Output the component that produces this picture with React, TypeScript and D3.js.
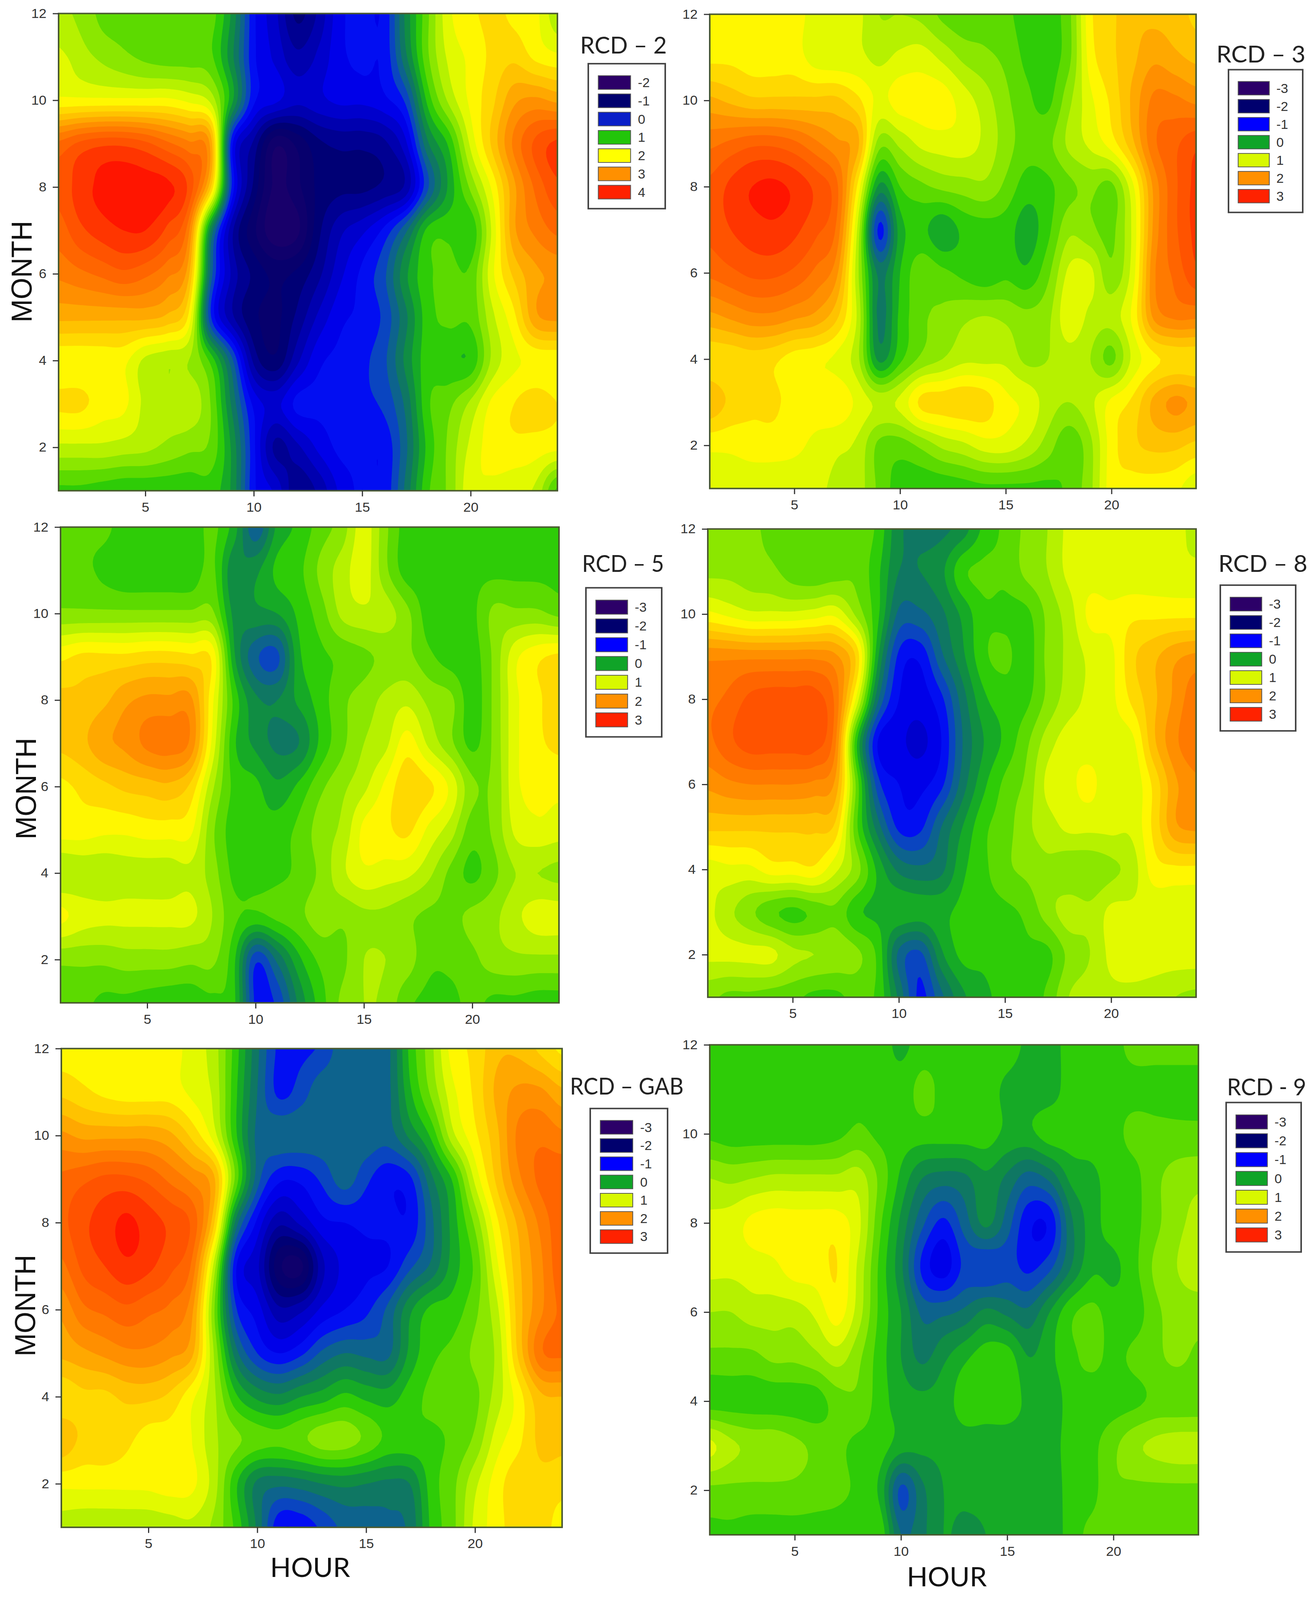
import React, { useEffect, useRef } from 'react';
import * as d3 from 'd3';

const hours = d3.range(1, 25);
const months = d3.range(12, 0, -1); // rows below run from December down to January
const hourTicks = [5, 10, 15, 20];
const monthTicks = [2, 4, 6, 8, 10, 12];

// RCD-2 is read on its own legend (-2..4), the others on -3..3
const rcd2Values = [
  [1.8,1.7,1.5,1.5,1.5,1.5,1.5,1.45,0.9,0,-0.4,-0.9,-0.6,-0.1,0,0,0.8,1.5,2.1,2.3,2.4,2.3,2.2,1.8],
  [2,1.85,1.7,1.6,1.5,1.45,1.45,1.4,0.8,0,-0.3,-0.6,-0.4,-0.1,0,0,0.7,1.5,2,2.2,2.4,2.5,2.3,2.2],
  [2.2,2.2,2.2,2.2,2.2,2.2,2.1,1.9,1,0,-0.2,-0.4,-0.3,-0.2,-0.2,-0.1,0.2,1.2,1.8,2.2,2.5,2.9,3,2.9],
  [3.4,3.6,3.7,3.7,3.6,3.4,3.2,2.9,0,-0.7,-1.4,-1.2,-0.9,-0.8,-0.8,-0.7,-0.3,0.7,1.2,2,2.6,3.2,3.6,3.8],
  [3.6,3.85,4,4.05,4.05,4,3.7,2.6,0.1,-0.9,-1.5,-1.3,-1,-0.9,-0.9,-0.8,-0.6,0.3,1,1.6,2.2,2.9,3.4,3.7],
  [3.45,3.7,3.85,3.95,3.95,3.7,3.2,0.8,-0.6,-1.2,-1.6,-1.5,-0.9,-0.5,-0.3,0,0.5,1.2,1.3,1.2,2,2.9,3.2,3.4],
  [3.2,3.3,3.4,3.5,3.4,3.2,2.8,0.5,-0.5,-0.9,-1.1,-1,-0.7,-0.3,0,0.3,0.9,1.3,1.4,1.4,2.1,2.6,2.9,3],
  [2.8,2.8,2.8,2.8,2.8,2.7,2.3,0.2,-0.6,-1,-1.1,-0.8,-0.4,-0.1,0,0.2,0.7,1.25,1.4,1.4,1.9,2.3,2.9,3],
  [2.2,2.2,2.2,2.2,1.9,1.8,1.75,1.3,0.4,-0.7,-1,-0.5,-0.1,0,0.1,0.3,0.8,1.25,1.2,1.2,1.8,2.1,2.2,2.2],
  [2.4,2.4,2.25,2.2,1.9,1.85,1.9,1.55,0.7,-0.1,-0.3,0,0,0,0.1,0.2,0.6,1.3,1.5,1.8,2.2,2.35,2.45,2.35],
  [1.9,1.9,1.9,1.85,1.8,1.7,1.6,1.5,0.9,0,-0.7,-0.5,-0.2,0,0,0,0.5,1.2,1.6,2,2.25,2.3,2.25,2.2],
  [1.3,1.3,1.25,1.2,1.2,1.2,1.2,1.25,0.9,0,-0.3,-0.8,-0.6,-0.2,0,0,0.6,1.3,1.6,2.1,2.1,2,1.9,1.3],
];

const rcd3Values = [
  [1.25,1.25,1.25,1.25,1.25,1.05,1,1,0.75,0.75,0.7,0.5,0.4,0.45,0.4,0.25,0.25,0.5,1.3,1.5,1.7,1.7,1.65,1.5],
  [1.3,1.3,1.25,1.25,1.25,1.05,1,1,0.9,1,1.05,0.9,0.7,0.6,0.5,0.3,0.25,0.5,1.25,1.5,1.7,1.9,1.8,1.7],
  [1.8,1.7,1.6,1.6,1.6,1.6,1.6,1.4,1.1,1.25,1.25,1.25,1.05,0.85,0.6,0.4,0.3,0.7,1.1,1.4,1.8,2.2,2.2,2.1],
  [2.3,2.4,2.5,2.5,2.4,2.2,2,1.8,0.65,0.8,1,1.05,1.05,0.9,0.65,0.45,0.5,0.8,1,1.25,1.7,2.3,2.5,2.7],
  [2.6,2.8,2.95,3,2.9,2.7,2.4,1.3,-0.1,0.35,0.5,0.6,0.65,0.7,0.5,0.25,0.3,0.5,0.6,0.5,1.1,2,2.5,2.8],
  [2.6,2.75,2.85,2.9,2.8,2.6,2.3,0.9,-0.9,0.05,0.2,0,0.2,0.25,0.25,0.05,0.3,0.7,0.6,0.5,1,2,2.5,2.8],
  [2.4,2.5,2.6,2.6,2.5,2.3,2,0.8,-0.3,0.15,0.5,0.4,0.3,0.2,0.3,0.2,0.5,1,1,0.6,1.05,2.1,2.4,2.7],
  [1.9,2,2.1,2.1,2,1.9,1.6,0.9,-0.3,0.2,0.5,0.6,0.7,0.75,0.7,0.6,0.7,1.1,0.9,0.85,1.2,2,2.2,2.2],
  [1.4,1.4,1.45,1.4,1.25,1.2,1.1,0.8,-0.1,0.3,0.6,0.75,0.9,0.9,0.9,0.7,0.75,0.85,0.75,0.5,1,1.3,1.4,1.4],
  [1.7,1.5,1.4,1.4,1.25,1.25,1.3,1.1,0.9,1,1.4,1.45,1.5,1.45,1.2,1.1,0.85,0.75,0.9,1.2,1.4,1.8,2,1.9],
  [1.2,1.2,1.25,1.25,1.2,1.1,1,0.9,0.5,0.45,0.6,0.8,0.9,1.05,1.05,0.9,0.65,0.4,0.7,1.25,1.5,1.6,1.6,1.5],
  [1,1,1,1,1,1,0.9,0.85,0.5,0.25,0.2,0.2,0.25,0.3,0.3,0.3,0.3,0.4,0.7,1.25,1.25,1.25,1.2,1],
];

const rcd5Values = [
  [0.4,0.4,0.4,0.25,0.2,0.2,0.2,0.4,0.05,-0.6,0,0.2,0.45,0.65,1.05,0.6,0.25,0.25,0.3,0.3,0.3,0.3,0.3,0.3],
  [0.4,0.4,0.3,0.2,0.2,0.2,0.2,0.4,-0.2,-0.1,0.2,0.3,0.6,0.85,1.05,0.6,0.25,0.25,0.3,0.3,0.3,0.3,0.3,0.3],
  [0.6,0.6,0.6,0.6,0.6,0.6,0.6,0.6,-0.1,-0.1,-0.05,0.2,0.45,0.8,0.9,0.85,0.6,0.25,0.25,0.3,0.6,0.6,0.6,0.5],
  [1.3,1.4,1.4,1.4,1.45,1.45,1.4,1.3,0,-0.6,-0.7,0.1,0.3,0.4,0.5,0.6,0.6,0.4,0.25,0.25,0.6,1.1,1.3,1.4],
  [1.6,1.6,1.7,1.9,2,2,2,1.2,0.3,-0.2,-0.25,0,0.25,0.5,0.65,0.8,0.9,0.7,0.6,0.25,0.6,1.1,1.3,1.5],
  [1.6,1.7,1.9,2,2.2,2.25,2.1,1.1,0.2,-0.1,-0.3,-0.25,0.2,0.5,0.75,0.9,1.25,0.9,0.6,0.3,0.6,1.1,1.3,1.4],
  [1.3,1.4,1.5,1.6,1.65,1.7,1.5,0.8,0.3,0.2,0,0.2,0.5,0.7,0.9,1.2,1.5,1.4,1.1,0.6,0.6,1.1,1.2,1.2],
  [1.25,1.25,1.2,1.2,1.25,1.25,1.2,0.6,0.25,0.2,0.25,0.4,0.65,0.8,1.2,1.3,1.4,1.1,0.85,0.45,0.6,1,1.1,1.05],
  [0.75,0.8,0.8,0.85,0.85,0.85,0.9,0.65,0.3,0.25,0.3,0.4,0.6,0.9,1.1,1.05,1,0.8,0.5,0.3,0.5,0.75,0.75,0.7],
  [1.2,1.05,1,1,1,1,1,0.75,0.4,0.3,0.4,0.5,0.65,0.6,0.7,0.7,0.6,0.5,0.5,0.6,0.7,0.9,1.05,1.05],
  [0.6,0.6,0.6,0.65,0.65,0.65,0.6,0.6,0.2,-0.8,-0.4,0.1,0.4,0.5,0.75,0.75,0.65,0.4,0.4,0.5,0.65,0.7,0.7,0.7],
  [0.4,0.4,0.3,0.3,0.25,0.2,0.2,0.3,0.2,-0.9,-0.8,-0.2,0.25,0.6,0.75,0.7,0.4,0.3,0.3,0.4,0.3,0.3,0.25,0.25],
];

const rcd8Values = [
  [0.65,0.65,0.6,0.5,0.5,0.5,0.5,0.5,0.3,-0.2,-0.3,-0.3,-0.15,0.2,0.4,0.6,0.75,1,1,1,1,1,1,0.9],
  [0.7,0.7,0.65,0.6,0.45,0.4,0.45,0.5,0.2,-0.25,-0.25,-0.1,0.3,0.4,0.4,0.6,0.75,1,1.05,1,1,1,1,1],
  [1.2,1.1,1,1,1,1.05,1.1,0.7,0.2,-0.5,-0.5,-0.3,0,0.3,0.3,0.3,0.6,0.85,1.2,1.2,1.3,1.3,1.3,1.3],
  [2.1,2.1,2.1,2.1,2.1,2.1,2,1.5,0,-0.9,-1,-0.5,-0.1,0.3,0.4,0.25,0.6,0.8,1,1.1,1.5,1.7,1.9,2],
  [2.3,2.4,2.6,2.65,2.65,2.65,2.3,1.1,-0.4,-1.05,-1.15,-0.9,-0.35,0.1,0.25,0.3,0.6,0.85,1,1.1,1.4,1.7,2,2.3],
  [2.3,2.5,2.65,2.65,2.65,2.65,2.2,0.2,-1.05,-1.2,-1.3,-1.05,-0.45,-0.05,0.2,0.5,0.85,1.05,1.05,1.05,1.1,1.7,2.1,2.3],
  [2,2.1,2.15,2.15,2.15,2.1,1.9,0.5,-0.75,-1.05,-1.1,-0.9,-0.35,0.1,0.4,0.6,1,1.1,1.2,1,1,1.4,1.9,2.1],
  [1.6,1.6,1.6,1.6,1.6,1.6,1.5,0.4,-0.35,-0.9,-0.9,-0.45,-0.05,0.3,0.45,0.7,0.85,1,1,1,1,1.4,1.9,2],
  [1.05,1.1,1.1,1.25,1.25,1.3,1,0.65,0.1,-0.3,-0.4,-0.3,0.1,0.3,0.5,0.6,0.7,0.6,0.6,0.7,0.85,1.25,1.3,1.3],
  [1,0.8,0.6,0.4,0.3,0.4,0.5,0.2,0.1,0.1,0.05,0.1,0.2,0.25,0.3,0.4,0.65,0.85,0.8,1,1,1,1,1],
  [1,1,1,1,0.8,0.75,0.7,0.6,0.3,-0.5,-0.7,-0.1,0.2,0.2,0.25,0.3,0.3,0.6,0.75,1,1.05,1.05,1.05,1.05],
  [0.6,0.5,0.5,0.45,0.4,0.3,0.3,0.4,0.3,-0.3,-0.9,-0.5,-0.1,0.1,0.2,0.2,0.4,0.75,0.85,0.9,0.9,0.85,0.75,0.7],
];

const rcdGabValues = [
  [1.25,1.25,1.25,1.25,1.25,1.25,1.05,0.85,0.25,-0.4,-0.9,-0.9,-0.8,-0.5,-0.5,-0.5,0.2,0.7,1.25,1.4,1.7,1.7,1.5,1.3],
  [1.5,1.4,1.3,1.25,1.25,1.25,1.1,0.9,0.2,-0.45,-0.9,-0.75,-0.5,-0.5,-0.5,-0.5,0.1,0.6,1.1,1.4,1.8,2,2,1.8],
  [2,1.9,1.9,1.9,1.9,1.8,1.5,1.05,0.2,-0.5,-0.5,-0.5,-0.5,-0.5,-0.5,-0.55,-0.2,0.2,0.9,1.3,1.7,2.2,2.3,2.2],
  [2.4,2.5,2.6,2.6,2.5,2.3,2.1,1.8,0.5,-0.55,-1,-1,-0.8,-0.55,-0.8,-1,-0.9,-0.3,0.2,1,1.6,2.1,2.4,2.5],
  [2.5,2.7,2.85,3,2.85,2.7,2.5,1.6,-0.3,-1.1,-1.6,-1.4,-1.1,-1.05,-1,-1,-1,-0.5,0.05,0.6,1.3,1.8,2.2,2.5],
  [2.3,2.6,2.75,2.9,2.8,2.6,2.3,0.9,-1,-1.4,-2.2,-2.3,-1.5,-1.2,-1.1,-1.05,-0.7,-0.4,0.05,0.4,1.1,1.7,2.1,2.5],
  [2,2.3,2.4,2.5,2.4,2.3,2,0.6,-0.8,-1.15,-1.6,-1.5,-1.2,-1.05,-0.9,-0.6,-0.1,0.2,0.25,0.5,0.9,1.65,2.1,2.4],
  [1.8,1.9,2,2.1,2.1,2,1.8,0.75,-0.35,-0.85,-1.05,-0.9,-0.6,-0.45,-0.5,-0.5,0,0.3,0.4,0.6,0.8,1.6,2.3,2.4],
  [1.4,1.5,1.5,1.6,1.6,1.5,1.2,0.8,0.2,-0.1,-0.2,-0.05,0.05,0.2,0.1,0.05,0.25,0.4,0.45,0.5,0.85,1.25,1.7,1.75],
  [1.7,1.5,1.5,1.4,1.25,1.25,1.15,0.8,0.6,0.45,0.4,0.5,0.65,0.65,0.5,0.3,0.3,0.3,0.4,0.6,1.05,1.3,1.6,1.6],
  [1.2,1.2,1.2,1.2,1.2,1.25,1.2,0.85,0.2,-0.3,-0.4,-0.35,-0.25,-0.2,-0.25,-0.3,-0.25,0.25,0.5,0.9,1.25,1.5,1.5,1.45],
  [0.85,0.8,0.8,0.8,0.8,0.85,0.9,0.7,0.3,-0.3,-1,-1,-0.8,-0.6,-0.55,-0.5,-0.4,0.2,0.5,1,1.25,1.5,1.5,1.2],
];

const rcd9Values = [
  [0.3,0.25,0.25,0.25,0.25,0.25,0.25,0.25,0.25,0.1,0.25,0.25,0.25,0.25,0.25,0.1,0.05,0.25,0.25,0.3,0.4,0.4,0.4,0.4],
  [0.25,0.25,0.25,0.25,0.25,0.25,0.25,0.3,0.25,0.25,0.4,0.3,0.25,0.25,0.1,0.05,0.05,0.25,0.25,0.3,0.3,0.3,0.3,0.3],
  [0.3,0.25,0.25,0.25,0.25,0.25,0.3,0.4,0.3,0.25,0.25,0.25,0.25,0.25,0.1,0.1,0.25,0.25,0.25,0.3,0.4,0.4,0.4,0.4],
  [0.75,0.7,0.75,0.8,0.8,0.8,0.8,0.85,0.5,0.1,-0.25,-0.35,-0.3,-0.1,-0.3,-0.55,-0.4,0,0.1,0.25,0.3,0.5,0.65,0.7],
  [1,1.05,1.2,1.25,1.25,1.25,1.25,1,0.4,-0.1,-0.6,-0.9,-0.55,-0.2,-0.55,-1,-1,-0.3,0.05,0.25,0.3,0.5,0.7,0.8],
  [1,1,1.05,1.1,1.25,1.25,1.35,0.9,0.3,-0.2,-0.9,-1.15,-0.8,-0.85,-0.75,-0.9,-0.7,-0.25,0.1,0.1,0.3,0.6,0.75,0.85],
  [0.75,0.75,0.85,0.85,0.85,1,1.25,0.85,0.3,-0.05,-0.5,-0.5,-0.4,-0.2,-0.3,-0.4,-0.05,0.3,0.4,0.25,0.25,0.5,0.65,0.65],
  [0.5,0.5,0.5,0.6,0.6,0.7,0.85,0.6,0.25,-0.05,-0.3,-0.1,0.1,0.25,0.25,-0.05,0.1,0.3,0.4,0.3,0.4,0.5,0.6,0.5],
  [0.25,0.25,0.25,0.25,0.25,0.25,0.45,0.5,0.25,0.05,0,0.05,0.25,0.25,0.25,0.1,0,0.25,0.25,0.25,0.3,0.4,0.4,0.4],
  [1,0.8,0.7,0.7,0.6,0.5,0.4,0.3,0.25,0.05,0,0,0.05,0.05,0.05,0.05,0.05,0.25,0.3,0.5,0.7,0.8,0.85,0.85],
  [0.5,0.5,0.5,0.5,0.5,0.45,0.4,0.3,0.1,-0.7,-0.3,-0.05,0,0,0,0,0,0.25,0.3,0.5,0.5,0.5,0.5,0.5],
  [0.3,0.3,0.25,0.25,0.25,0.25,0.25,0.25,0.3,-0.45,-0.3,-0.05,-0.1,-0.05,0,0,0,0.25,0.4,0.4,0.4,0.4,0.4,0.4],
];

const legendLabelsLow = ['-3', '-2', '-1', '0', '1', '2', '3'];
const legendLabelsHigh = ['-2', '-1', '0', '1', '2', '3', '4'];
const legendColors = ['#2c0068', '#00006e', '#0000ff', '#10a428', '#d8f800', '#ff9000', '#ff2200'];
const legendColorsHigh = ['#2c0068', '#00006e', '#0a1fc8', '#22c50a', '#ffff00', '#ff9000', '#ff2200'];

// colour ramp of the -3..3 legend
const rampStops = [-3, -2, -1, -0.75, -0.5, -0.25, 0, 0.2, 0.4, 0.6, 0.8, 1, 1.2, 1.4, 1.7, 2, 2.25, 2.5, 2.75, 3];
const rampColors = ['#2c0068', '#00006e', '#0000ff', '#0a45c0', '#0e6a80', '#0f8050', '#12a030', '#22c80a', '#50d600', '#80e400', '#aaee00', '#d8f800', '#ffff00', '#ffdf00', '#ffbc00', '#ff9400', '#ff7a00', '#ff6000', '#ff4a00', '#ff1500'];
const colorScale = d3.scaleLinear<string>().domain(rampStops).range(rampColors).clamp(true);
const bandLevels = d3.range(-3.05, 3, 0.2);

const SMOOTH = 10;

// Catmull-Rom resampling so the contour bands come out round, as in the original plots
function cubic(a: number, b: number, c: number, d: number, t: number) {
  return b + 0.5 * t * (c - a + t * (2 * a - 5 * b + 4 * c - d + t * (3 * (b - c) + d - a)));
}

function resample(rows: number[][], k: number) {
  const ny = rows.length, nx = rows[0].length;
  const w = (nx - 1) * k + 1, h = (ny - 1) * k + 1;
  const at = (j: number, i: number) => rows[Math.max(0, Math.min(ny - 1, j))][Math.max(0, Math.min(nx - 1, i))];
  const out = new Array(w * h);
  for (let y = 0; y < h; y++) {
    const j = Math.min(Math.floor(y / k), ny - 2), v = y / k - j;
    for (let x = 0; x < w; x++) {
      const i = Math.min(Math.floor(x / k), nx - 2), u = x / k - i;
      const col = [-1, 0, 1, 2].map(d => cubic(at(j + d, i - 1), at(j + d, i), at(j + d, i + 1), at(j + d, i + 2), u));
      out[y * w + x] = cubic(col[0], col[1], col[2], col[3], v);
    }
  }
  return { values: out, w, h };
}

interface Rect { x0: number; x1: number; y0: number; y1: number; }
interface Box { x: number; y: number; w: number; h: number; }

interface PanelProps {
  id: string;
  title: string;
  titleX: number;
  titleY: number;
  titleWidth: number;
  values: number[][];
  offset: number;
  plot: Rect;
  legend: Box;
  labels: string[];
  colors: string[];
  monthLabel?: { x: number; y: number };
  hourLabel?: { x: number; y: number };
}

function ContourPanel(p: PanelProps) {
  const gRef = useRef<SVGGElement>(null);

  useEffect(() => {
    if (!gRef.current) return;
    const g = d3.select(gRef.current);
    g.selectAll('*').remove();

    const { x0, x1, y0, y1 } = p.plot;
    const xScale = d3.scaleLinear().domain([hours[0], hours[hours.length - 1]]).range([x0, x1]);
    const yScale = d3.scaleLinear().domain([months[months.length - 1], months[0]]).range([y1, y0]);

    const { values, w, h } = resample(p.values, SMOOTH);
    const toPlot = d3.geoTransform({
      point(px: number, py: number) {
        // d3.contours puts grid samples on half-integer coordinates
        const hour = hours[0] + (px - 0.5) / SMOOTH;
        const month = months[0] - (py - 0.5) / SMOOTH;
        (this as any).stream.point(xScale(hour), yScale(month));
      },
    });
    const path = d3.geoPath(toPlot);
    const contours = d3.contours().size([w, h]).thresholds(bandLevels.map(t => t + p.offset))(values);

    const clipId = `clip-${p.id}`;
    g.append('clipPath').attr('id', clipId).append('rect')
      .attr('x', x0).attr('y', y0).attr('width', x1 - x0).attr('height', y1 - y0);

    const marks = g.append('g').attr('clip-path', `url(#${clipId})`);
    marks.append('rect').attr('x', x0).attr('y', y0).attr('width', x1 - x0).attr('height', y1 - y0)
      .attr('fill', colorScale(-3));
    marks.selectAll('path').data(contours).enter().append('path')
      .attr('d', d => path(d as any))
      .attr('fill', d => colorScale(d.value - p.offset + 0.1));

    g.append('rect').attr('x', x0).attr('y', y0).attr('width', x1 - x0).attr('height', y1 - y0)
      .attr('fill', 'none').attr('stroke', '#4a5a30').attr('stroke-width', 4);

    const xAxis = g.append('g').attr('transform', `translate(0,${y1})`)
      .call(d3.axisBottom(xScale).tickValues(hourTicks).tickSize(15).tickPadding(16));
    const yAxis = g.append('g').attr('transform', `translate(${x0},0)`)
      .call(d3.axisLeft(yScale).tickValues(monthTicks).tickSize(15).tickPadding(16));
    [xAxis, yAxis].forEach(a => {
      a.select('.domain').remove();
      a.selectAll('line').attr('stroke', '#333').attr('stroke-width', 3);
      a.selectAll('text')
        .attr('font-family', '"Liberation Sans", Arial, sans-serif')
        .attr('font-size', 35)
        .attr('fill', '#333');
    });

    // legend
    const { x, y, w: bw, h: bh } = p.legend;
    const legend = g.append('g');
    legend.append('rect').attr('x', x).attr('y', y).attr('width', bw).attr('height', bh)
      .attr('fill', '#fff').attr('stroke', '#444').attr('stroke-width', 4);
    const rowY = d3.scaleBand<number>().domain(d3.range(p.labels.length))
      .range([y + 0.083 * bh - 0.016 * bh, y + 0.083 * bh + 0.126 * 7 * bh - 0.016 * bh])
      .paddingInner(0.25).paddingOuter(0.125);
    p.labels.forEach((label, i) => {
      legend.append('rect')
        .attr('x', x + 0.13 * bw).attr('y', rowY(i)!)
        .attr('width', 0.42 * bw).attr('height', rowY.bandwidth())
        .attr('fill', p.colors[i]).attr('stroke', '#555').attr('stroke-width', 2);
      legend.append('text')
        .attr('x', x + 0.645 * bw).attr('y', rowY(i)! + rowY.bandwidth() / 2)
        .attr('dy', '0.36em')
        .attr('font-family', '"Liberation Sans", Arial, sans-serif')
        .attr('font-size', 34).attr('fill', '#333')
        .text(label);
    });

    g.append('text')
      .attr('x', p.titleX).attr('y', p.titleY)
      .attr('font-family', 'Lato, sans-serif').attr('font-size', 62).attr('fill', '#222')
      .attr('textLength', p.titleWidth).attr('lengthAdjust', 'spacingAndGlyphs')
      .text(p.title);

    if (p.monthLabel) {
      g.append('text')
        .attr('transform', `translate(${p.monthLabel.x},${p.monthLabel.y}) rotate(-90)`)
        .attr('text-anchor', 'middle')
        .attr('font-family', '"Liberation Sans", Arial, sans-serif')
        .attr('font-size', 74).attr('fill', '#111')
        .text('MONTH');
    }
    if (p.hourLabel) {
      g.append('text')
        .attr('x', p.hourLabel.x).attr('y', p.hourLabel.y)
        .attr('text-anchor', 'middle')
        .attr('font-family', 'Lato, sans-serif')
        .attr('font-size', 70).attr('fill', '#111')
        .text('HOUR');
    }
  }, []);

  return <g ref={gRef} />;
}

export default function App() {
  return (
    <svg viewBox="0 0 3369 4271" preserveAspectRatio="none" style={{ position: 'absolute', left: 0, top: 0, width: '100vw', height: '100vh', display: 'block', background: '#fff' }}>
      <ContourPanel id="rcd2" title="RCD – 2" titleX={1485} titleY={143} titleWidth={222} values={rcd2Values} offset={1}
        plot={{ x0: 150, x1: 1427, y0: 36, y1: 1310 }} legend={{ x: 1506, y: 170, w: 197, h: 387 }}
        labels={legendLabelsHigh} colors={legendColorsHigh} monthLabel={{ x: 81, y: 725 }} />
      <ContourPanel id="rcd3" title="RCD – 3" titleX={3114} titleY={167} titleWidth={228} values={rcd3Values} offset={0}
        plot={{ x0: 1817, x1: 3062, y0: 38, y1: 1304 }} legend={{ x: 3145, y: 186, w: 190, h: 381 }}
        labels={legendLabelsLow} colors={legendColors} />
      <ContourPanel id="rcd5" title="RCD – 5" titleX={1490} titleY={1527} titleWidth={210} values={rcd5Values} offset={0}
        plot={{ x0: 155, x1: 1431, y0: 1407, y1: 2677 }} legend={{ x: 1500, y: 1569, w: 194, h: 398 }}
        labels={legendLabelsLow} colors={legendColors} monthLabel={{ x: 92, y: 2105 }} />
      <ContourPanel id="rcd8" title="RCD – 8" titleX={3119} titleY={1527} titleWidth={228} values={rcd8Values} offset={0}
        plot={{ x0: 1812, x1: 3062, y0: 1412, y1: 2662 }} legend={{ x: 3124, y: 1562, w: 193, h: 389 }}
        labels={legendLabelsLow} colors={legendColors} />
      <ContourPanel id="rcdgab" title="RCD – GAB" titleX={1459} titleY={2922} titleWidth={291} values={rcdGabValues} offset={0}
        plot={{ x0: 157, x1: 1439, y0: 2799, y1: 4077 }} legend={{ x: 1511, y: 2959, w: 198, h: 386 }}
        labels={legendLabelsLow} colors={legendColors} monthLabel={{ x: 90, y: 3485 }} hourLabel={{ x: 794, y: 4210 }} />
      <ContourPanel id="rcd9" title="RCD - 9" titleX={3141} titleY={2924} titleWidth={203} values={rcd9Values} offset={0}
        plot={{ x0: 1817, x1: 3068, y0: 2789, y1: 4097 }} legend={{ x: 3139, y: 2943, w: 192, h: 399 }}
        labels={legendLabelsLow} colors={legendColors} hourLabel={{ x: 2424, y: 4234 }} />
    </svg>
  );
}
